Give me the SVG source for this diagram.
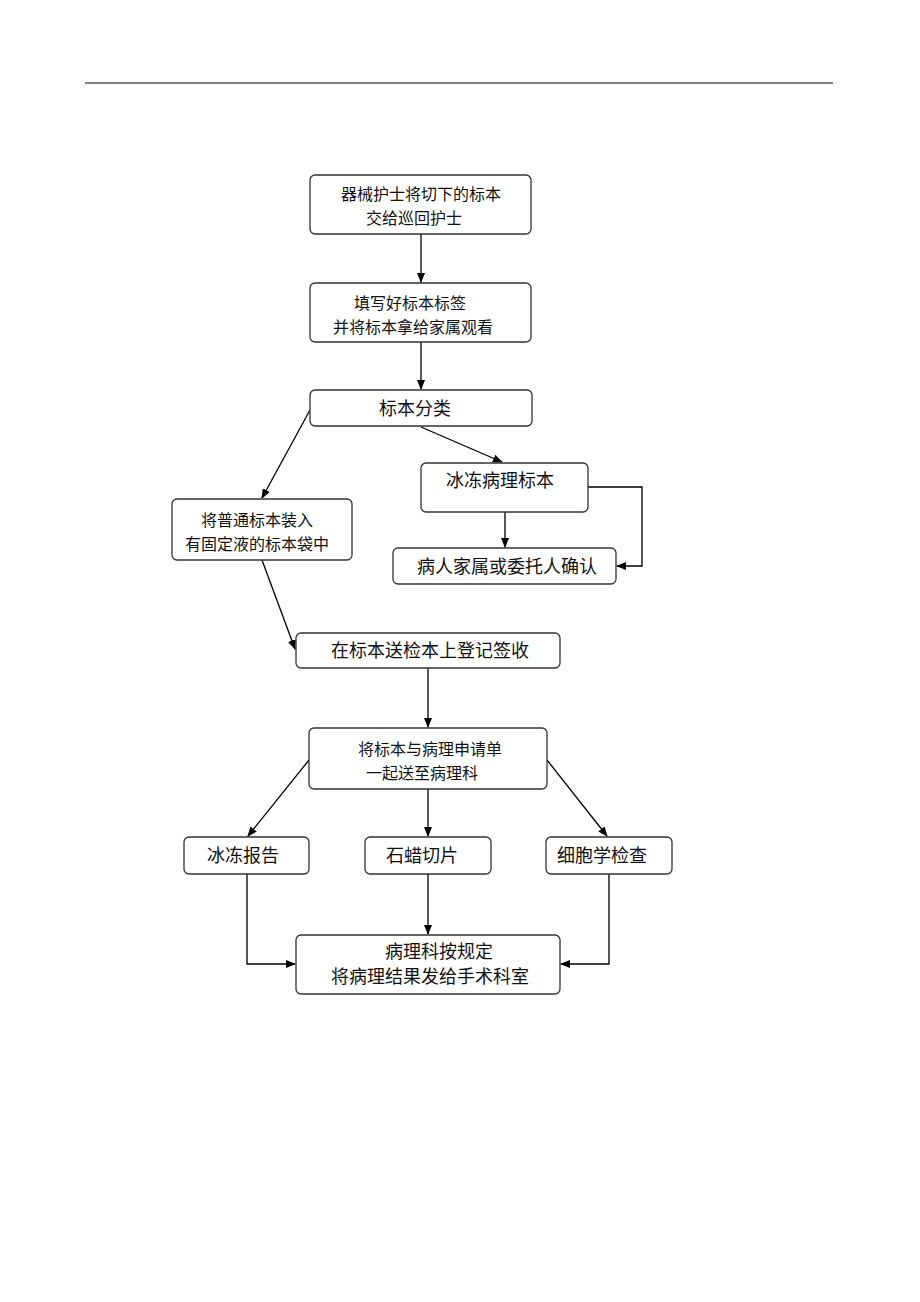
<svg xmlns="http://www.w3.org/2000/svg" width="920" height="1302" viewBox="0 0 920 1302">
<style>
.box{fill:#fff;stroke:#333;stroke-width:1.3}
.t{font-family:"Noto Sans CJK SC","Noto Sans CJK JP",sans-serif;font-size:16px;fill:#111;text-anchor:middle}
.l{font-size:18px}
.c{fill:none;stroke:#000;stroke-width:1.3}
</style>
<defs>
<marker id="ah" markerWidth="10" markerHeight="10" refX="9" refY="5" orient="auto" markerUnits="userSpaceOnUse">
<path d="M0,1 L10,5 L0,9 Z" fill="#000"/>
</marker>
</defs>
<rect width="920" height="1302" fill="#fff"/>
<line x1="85" y1="83" x2="833" y2="83" stroke="#000" stroke-width="1"/>

<g id="connectors">
<line class="c" x1="421" y1="234" x2="421" y2="282" marker-end="url(#ah)"/>
<line class="c" x1="421" y1="342" x2="421" y2="389" marker-end="url(#ah)"/>
<line class="c" x1="421" y1="427" x2="502" y2="462" marker-end="url(#ah)"/>
<line class="c" x1="310" y1="410" x2="262" y2="498" marker-end="url(#ah)"/>
<line class="c" x1="505" y1="512" x2="505" y2="547" marker-end="url(#ah)"/>
<polyline class="c" points="588,487 642,487 642,566 617,566" marker-end="url(#ah)"/>
<line class="c" x1="262" y1="560" x2="295" y2="649" marker-end="url(#ah)"/>
<line class="c" x1="428" y1="668" x2="428" y2="727" marker-end="url(#ah)"/>
<line class="c" x1="309" y1="760" x2="248" y2="836" marker-end="url(#ah)"/>
<line class="c" x1="428" y1="789" x2="428" y2="836" marker-end="url(#ah)"/>
<line class="c" x1="547" y1="760" x2="607" y2="836" marker-end="url(#ah)"/>
<polyline class="c" points="247,874 247,964 295,964" marker-end="url(#ah)"/>
<line class="c" x1="428" y1="874" x2="428" y2="934" marker-end="url(#ah)"/>
<polyline class="c" points="609,874 609,964 561,964" marker-end="url(#ah)"/>
</g>

<g id="n1">
<rect class="box" x="310" y="175" width="221" height="59" rx="5"/>
<text class="t" x="421" y="200">器械护士将切下的标本</text>
<text class="t" x="414" y="224">交给巡回护士</text>
</g>
<g id="n2">
<rect class="box" x="310" y="283" width="221" height="59" rx="5"/>
<text class="t" x="410" y="309">填写好标本标签</text>
<text class="t" x="413" y="333">并将标本拿给家属观看</text>
</g>
<g id="n3">
<rect class="box" x="310" y="390" width="222" height="36" rx="5"/>
<text class="t l" x="415" y="415">标本分类</text>
</g>
<g id="n4">
<rect class="box" x="421" y="463" width="167" height="49" rx="5"/>
<text class="t l" x="500" y="487">冰冻病理标本</text>
</g>
<g id="n5">
<rect class="box" x="172" y="499" width="180" height="61" rx="5"/>
<text class="t" x="257" y="526">将普通标本装入</text>
<text class="t" x="257" y="550">有固定液的标本袋中</text>
</g>
<g id="n6">
<rect class="box" x="393" y="548" width="223" height="36" rx="5"/>
<text class="t l" x="507" y="573">病人家属或委托人确认</text>
</g>
<g id="n7">
<rect class="box" x="296" y="633" width="264" height="35" rx="5"/>
<text class="t l" x="430" y="657">在标本送检本上登记签收</text>
</g>
<g id="n8">
<rect class="box" x="309" y="728" width="238" height="61" rx="5"/>
<text class="t" x="430" y="755">将标本与病理申请单</text>
<text class="t" x="422" y="779">一起送至病理科</text>
</g>
<g id="n9">
<rect class="box" x="184" y="837" width="125" height="37" rx="5"/>
<text class="t l" x="243" y="862">冰冻报告</text>
</g>
<g id="n10">
<rect class="box" x="365" y="837" width="126" height="37" rx="5"/>
<text class="t l" x="422" y="862">石蜡切片</text>
</g>
<g id="n11">
<rect class="box" x="546" y="837" width="126" height="37" rx="5"/>
<text class="t l" x="602" y="862">细胞学检查</text>
</g>
<g id="n12">
<rect class="box" x="296" y="935" width="264" height="59" rx="5"/>
<text class="t l" x="439" y="958">病理科按规定</text>
<text class="t l" x="430" y="983">将病理结果发给手术科室</text>
</g>
</svg>
